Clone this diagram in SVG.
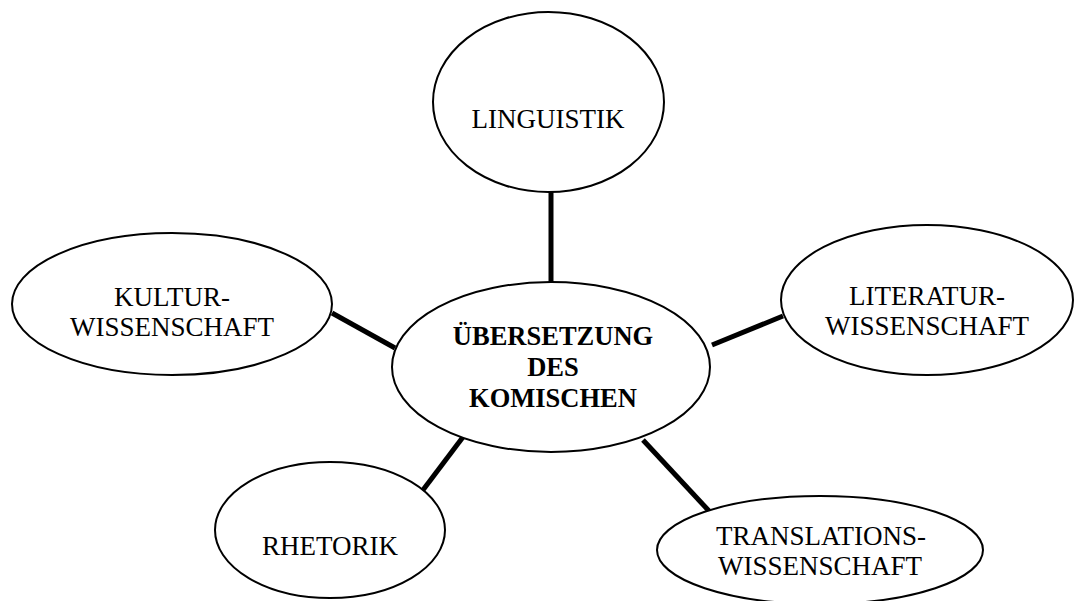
<svg xmlns="http://www.w3.org/2000/svg" width="1074" height="601" viewBox="0 0 1074 601">
<style>
.n{fill:#fff;stroke:#000;stroke-width:2}
.c{stroke:#000;stroke-width:5;fill:none}
.t{font-family:"Liberation Serif","Times New Roman",serif;font-size:27px;fill:#000;text-anchor:middle}
.b{font-weight:bold;font-size:26.5px}
</style>
<rect width="1074" height="601" fill="#fff"/>
<g id="connectors">
<line class="c" x1="551" y1="192" x2="551" y2="284"/>
<line class="c" x1="332" y1="313" x2="395" y2="348"/>
<line class="c" x1="712" y1="345" x2="783" y2="316"/>
<line class="c" x1="463" y1="437" x2="423" y2="490"/>
<line class="c" x1="643" y1="440" x2="709" y2="511"/>
</g>
<g id="linguistik">
<ellipse class="n" cx="548.5" cy="102" rx="115.5" ry="90"/>
<text class="t" x="548" y="128">LINGUISTIK</text>
</g>
<g id="kultur">
<ellipse class="n" cx="172" cy="304" rx="160" ry="71"/>
<text class="t" x="172" y="305.5">KULTUR-</text>
<text class="t" x="172" y="335.5">WISSENSCHAFT</text>
</g>
<g id="literatur">
<ellipse class="n" cx="927" cy="300" rx="146" ry="75"/>
<text class="t" x="927" y="304.5">LITERATUR-</text>
<text class="t" x="927" y="334.5">WISSENSCHAFT</text>
</g>
<g id="rhetorik">
<ellipse class="n" cx="330" cy="530" rx="115" ry="68"/>
<text class="t" x="330" y="555">RHETORIK</text>
</g>
<g id="translations">
<ellipse class="n" cx="820" cy="550" rx="163" ry="54"/>
<text class="t" x="821" y="545">TRANSLATIONS-</text>
<text class="t" x="820" y="575">WISSENSCHAFT</text>
</g>
<g id="center">
<ellipse class="n" cx="551" cy="367" rx="159" ry="85"/>
<text class="t b" x="553" y="345">ÜBERSETZUNG</text>
<text class="t b" x="553" y="376">DES</text>
<text class="t b" x="553" y="407">KOMISCHEN</text>
</g>
</svg>
